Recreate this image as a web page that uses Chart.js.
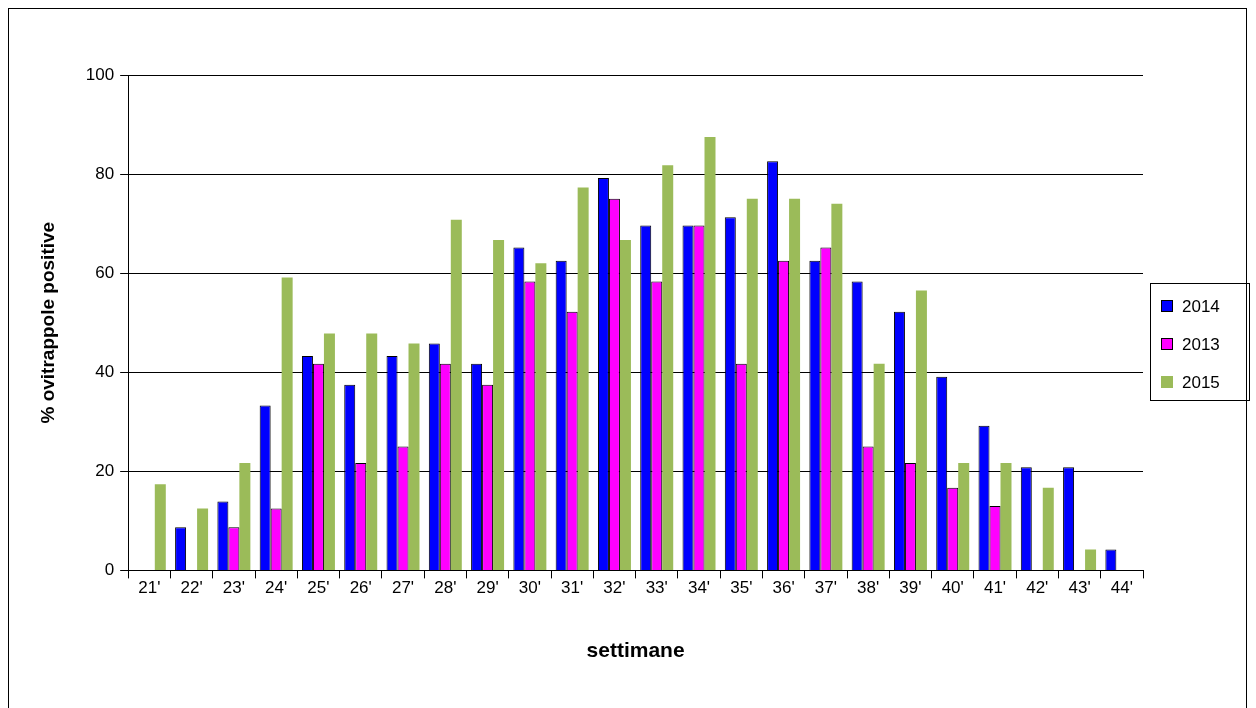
<!DOCTYPE html>
<html>
<head>
<meta charset="utf-8">
<script src="https://cdn.jsdelivr.net/npm/chart.js@4"></script>
<style>
  body { margin: 0; background: #fff; }
  #wrap { position: relative; width: 1256px; height: 708px; }
  #frame { position: absolute; left: 8px; top: 8px; width: 1239px; height: 700px; border: 1px solid #000; box-sizing: border-box; border-bottom: none; }
</style>
</head>
<body>
<div id="wrap">
  <div id="frame"></div>
  <canvas id="c" width="1256" height="708"></canvas>
</div>
<script>
const weeks = ["21'", "22'", "23'", "24'", "25'", "26'", "27'", "28'", "29'", "30'", "31'", "32'",
  "33'", "34'", "35'", "36'", "37'", "38'", "39'", "40'", "41'", "42'", "43'", "44'"];
const y2014 = [0, 8.7, 13.9, 33.3, 43.3, 37.5, 43.3, 45.8, 41.7, 65.2, 62.5, 79.2,
  69.6, 69.6, 71.3, 82.6, 62.5, 58.3, 52.2, 39.1, 29.2, 20.8, 20.8, 4.2];
const y2013 = [0, 0, 8.7, 12.5, 41.7, 21.7, 25, 41.7, 37.5, 58.3, 52.2, 75,
  58.3, 69.6, 41.7, 62.5, 65.2, 25, 21.7, 16.7, 13, 0, 0, 0];
const y2015 = [17.4, 12.5, 21.7, 59.1, 47.8, 47.8, 45.8, 70.8, 66.7, 62, 77.3, 66.7,
  81.8, 87.5, 75, 75, 74, 41.7, 56.5, 21.7, 21.7, 16.7, 4.2, 0];
const yTicks = [0, 20, 40, 60, 80, 100];

const fontFamily = 'Arial, "Liberation Sans", sans-serif';
const font = { family: fontFamily, size: 17 };

// legend drawn by hand so the box fits its entries like the original
const boxLegend = {
  id: 'boxLegend',
  afterDraw(chart) {
    const ctx = chart.ctx;
    const x = 1150, y = 283, w = 99, h = 117;
    ctx.save();
    ctx.strokeStyle = '#000';
    ctx.lineWidth = 1;
    ctx.strokeRect(x + 0.5, y + 0.5, w, h);
    ctx.font = '17px ' + fontFamily;
    ctx.textBaseline = 'middle';
    chart.data.datasets.forEach((ds, i) => {
      const cy = y + 23 + i * 38;
      ctx.fillStyle = ds.backgroundColor;
      ctx.fillRect(x + 11, cy - 6, 12, 12);
      if (ds.borderWidth) { ctx.strokeStyle = '#000'; ctx.strokeRect(x + 11.5, cy - 5.5, 11, 11); }
      ctx.fillStyle = '#000';
      ctx.fillText(ds.label, x + 32, cy + 1);
    });
    ctx.restore();
  }
};

new Chart(document.getElementById('c'), {
  type: 'bar',
  data: {
    labels: weeks,
    datasets: [
      { label: '2014', data: y2014, backgroundColor: '#0000FF' },
      { label: '2013', data: y2013, backgroundColor: '#FF00FF' },
      { label: '2015', data: y2015, backgroundColor: '#9BBB59', borderWidth: 0 }
    ].map(d => Object.assign({ borderColor: '#000', borderWidth: 1, categoryPercentage: 0.78, barPercentage: 1 }, d))
  },
  plugins: [boxLegend],
  options: {
    responsive: false,
    animation: false,
    layout: { padding: { left: 33, top: 75, right: 113, bottom: 40 } },
    plugins: {
      tooltip: { enabled: false },
      legend: { display: false }
    },
    scales: {
      x: {
        grid: { display: true, drawOnChartArea: false, color: '#000', tickLength: 8, offset: true },
        border: { color: '#000' },
        ticks: { color: '#000', font: font, maxRotation: 0, autoSkip: false, padding: 0 },
        title: { display: true, text: 'settimane', color: '#000', font: { family: fontFamily, size: 21, weight: 'bold' }, padding: { top: 40 } }
      },
      y: {
        min: 0, max: 100,
        afterBuildTicks: ax => { ax.ticks = yTicks.map(v => ({ value: v })); },
        grid: { color: '#000', tickLength: 8 },
        border: { color: '#000' },
        ticks: { color: '#000', font: font, padding: 6 },
        title: { display: true, text: '% ovitrappole positive', color: '#000', font: { family: fontFamily, size: 19, weight: 'bold' }, padding: { bottom: 20 } }
      }
    }
  }
});
</script>
</body>
</html>
